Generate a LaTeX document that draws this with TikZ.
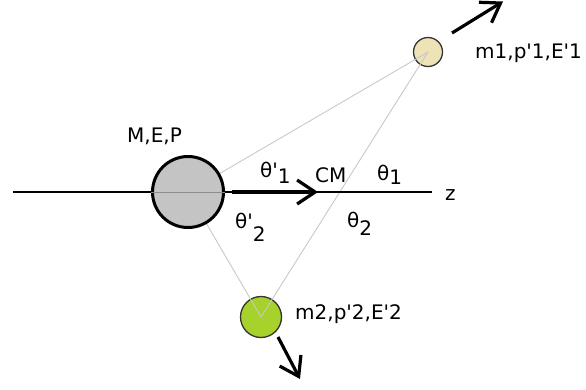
\documentclass[tikz,border=0pt]{standalone}
\usepackage{fontspec}
\setmainfont{DejaVu Sans}[Ligatures=TeXOff]
\usetikzlibrary{arrows.meta}
\definecolor{bigfill}{HTML}{C4C4C4}
\definecolor{mone}{HTML}{EDE3B6}
\definecolor{mtwo}{HTML}{A6D22B}
\definecolor{thin}{HTML}{C8C8C8}
\tikzset{
  lbl/.style={inner sep=0pt, anchor=base west, font=\fontsize{20}{24}\selectfont},
  guide/.style={draw=thin, line width=0.9pt},
  mom/.style={line width=3.2pt, -{Straight Barb[length=18pt, width=24pt, line width=3.2pt]}},
}
\begin{document}
\begin{tikzpicture}[x=1pt,y=-1pt]
\useasboundingbox (0,0) rectangle (586,389);
% particles
\node[circle, minimum size=29pt, inner sep=0pt, draw=black!80, line width=1.3pt, fill=mone] (m1) at (428,52) {};
\node[circle, minimum size=41pt, inner sep=0pt, draw=black!80, line width=1.3pt, fill=mtwo] (m2) at (261,317) {};
\coordinate (M0) at (188,192);
% guide lines
\draw[guide] (M0) -- (m1.center);
\draw[guide] (M0) -- (m2.center);
\draw[guide] (m1.center) -- (m2.center);
% axis
\coordinate (axs) at (13,192);
\coordinate (axe) at (432,192);
\draw[line width=1.1pt] (axs) -- (axe);
% big body
\node[circle, minimum size=71pt, inner sep=0pt, draw=black, line width=3pt, fill=bigfill] (M) at (M0) {};
\draw[draw=black!45, line width=0.8pt] (M.west) -- (M.east);
% CM momentum arrow
\coordinate (cms) at (232,192);
\coordinate (cme) at (318,192);
\draw[mom] (cms) -- (cme);
% outgoing arrows
\coordinate (a1s) at (452,33);
\coordinate (a1e) at (503,1.5);
\draw[mom] (a1s) -- (a1e);
\coordinate (a2s) at (278,337);
\coordinate (a2e) at (300,379);
\draw[mom] (a2s) -- (a2e);
% labels
\node[lbl] (lM) at (127,142) {M,E,P};
\node[lbl] (lCM) at (315,182) {CM};
\node[lbl] (lz) at (445,200) {z};
\node[lbl] (l1) at (475,58) {m1,p'1,E'1};
\node[lbl] (l2) at (295,319) {m2,p'2,E'2};
\node[lbl] (t1p) at (260,177) {θ'\raisebox{-6pt}{1}};
\node[lbl] (t1) at (377,180) {θ\raisebox{-4pt}{1}};
\node[lbl] (t2p) at (235,228) {θ'\raisebox{-13pt}{2}};
\node[lbl] (t2) at (347,227) {θ\raisebox{-8pt}{2}};
\end{tikzpicture}
\end{document}
